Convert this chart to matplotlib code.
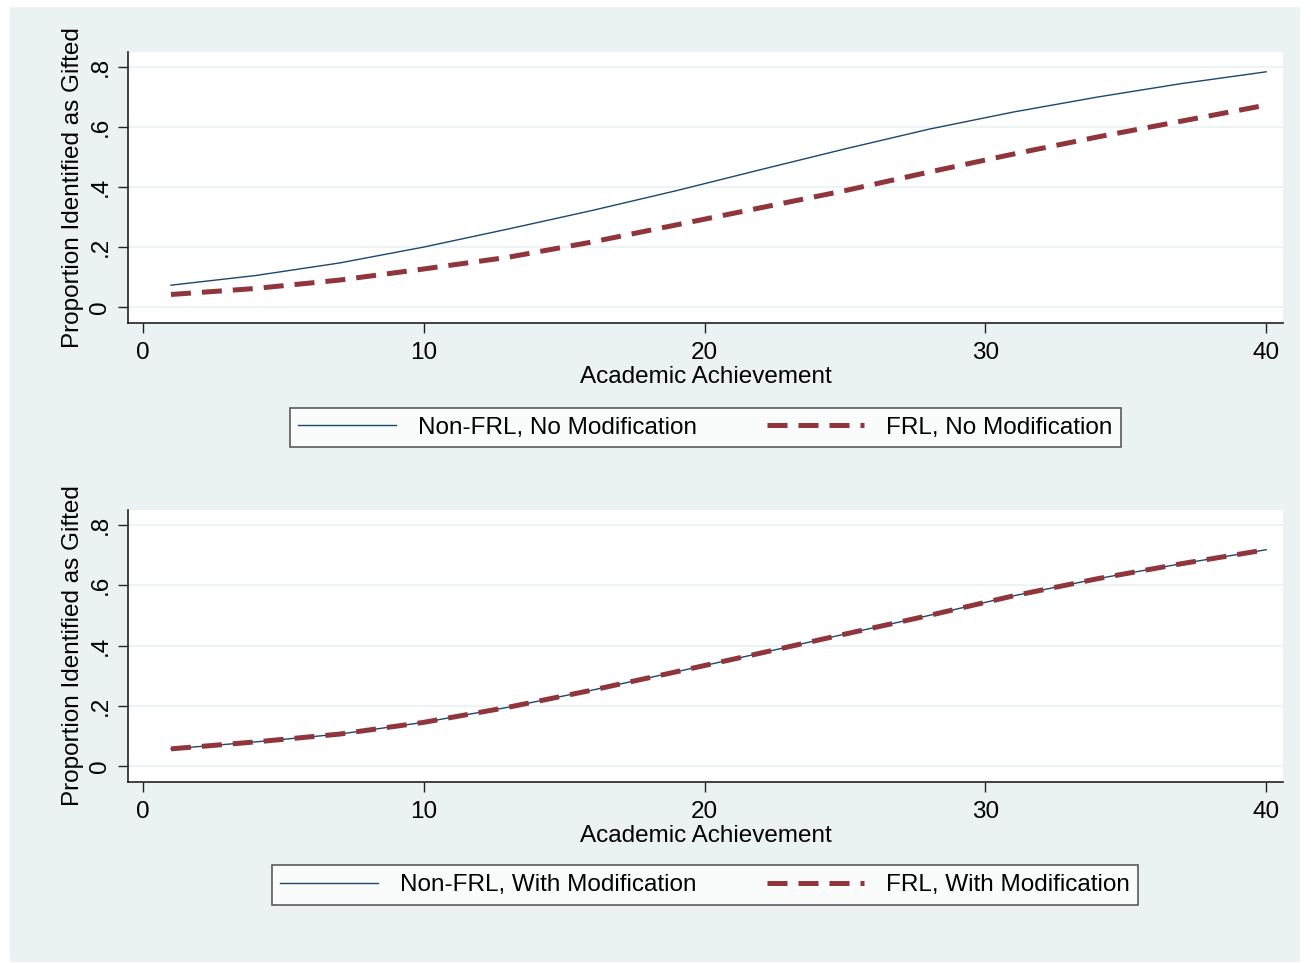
import numpy as np
import matplotlib
matplotlib.use("Agg")
import matplotlib.pyplot as plt
from matplotlib.patches import Rectangle

plt.rcParams["font.family"] = ["Liberation Sans", "DejaVu Sans"]

# ── Data ─────────────────────────────────────────────────────
achievement = [1, 4, 7, 10, 13, 16, 19, 22, 25, 28, 31, 34, 37, 40]

nonfrl_no_mod = [0.073, 0.105, 0.147, 0.200, 0.260, 0.322, 0.388, 0.458,
                 0.527, 0.593, 0.650, 0.700, 0.745, 0.784]
frl_no_mod    = [0.042, 0.062, 0.090, 0.127, 0.166, 0.217, 0.274, 0.331,
                 0.388, 0.450, 0.510, 0.567, 0.620, 0.673]

nonfrl_with_mod = [0.057, 0.080, 0.106, 0.145, 0.195, 0.252, 0.313, 0.375,
                   0.438, 0.500, 0.565, 0.622, 0.672, 0.718]
frl_with_mod    = [0.057, 0.080, 0.106, 0.145, 0.195, 0.252, 0.313, 0.375,
                   0.438, 0.500, 0.565, 0.622, 0.672, 0.718]

x_ticks = [0, 10, 20, 30, 40]
y_ticks = [0, 0.2, 0.4, 0.6, 0.8]
y_tick_labels = ["0", ".2", ".4", ".6", ".8"]

panels = [
    (nonfrl_no_mod, frl_no_mod,
     "Non-FRL, No Modification", "FRL, No Modification"),
    (nonfrl_with_mod, frl_with_mod,
     "Non-FRL, With Modification", "FRL, With Modification"),
]

# ── Styling (Stata s2color look) ─────────────────────────────
BG     = "#eaf2f3"
NAVY   = "#1a476f"
MAROON = "#90353b"
W, H   = 1311, 963
FS     = 17.5

fig = plt.figure(figsize=(W / 100, H / 100), dpi=100)
fig.patch.set_facecolor("white")
fig.patches.append(Rectangle((10 / W, 1 - 962 / H), 1290 / W, 955 / H,
                             transform=fig.transFigure, facecolor=BG,
                             edgecolor="none", zorder=-10))

# axes boxes in pixels: (left, top, right, bottom)
ax_boxes = [(128, 52, 1283, 323), (128, 510, 1283, 782)]
legend_centres = [(705.5, 427.5), (705, 885)]

for (l, t, r, b), (blue, red, lab1, lab2), (lx, ly) in zip(ax_boxes, panels, legend_centres):
    ax = fig.add_axes([l / W, 1 - b / H, (r - l) / W, (b - t) / H])
    ax.set_facecolor("white")

    ax.plot(achievement, blue, color=NAVY, lw=1.0, label=lab1, zorder=3)
    ax.plot(achievement, red, color=MAROON, lw=3.6, dashes=(4, 2.2),
            label=lab2, zorder=4)

    ax.set_xlim(-0.53, 40.6)
    ax.set_ylim(-0.053, 0.85)
    ax.set_xticks(x_ticks)
    ax.set_yticks(y_ticks)
    ax.set_yticklabels(y_tick_labels, rotation=90, va="center")
    ax.grid(axis="y", color=BG, lw=1.2, zorder=0)
    ax.set_axisbelow(True)

    for s in ["top", "right"]:
        ax.spines[s].set_visible(False)
    for s in ["left", "bottom"]:
        ax.spines[s].set_color("#222222")
        ax.spines[s].set_linewidth(1.2)
    ax.tick_params(direction="out", length=7, width=1, color="#222222",
                   labelsize=FS, pad=5)
    ax.tick_params(axis="x", pad=7)

    ax.set_xlabel("Academic Achievement", fontsize=FS, labelpad=1)
    ax.set_ylabel("Proportion Identified as Gifted", fontsize=FS, labelpad=4)

    leg = fig.legend(handles=ax.get_lines(), loc="center",
                     bbox_to_anchor=(lx / W, 1 - ly / H), ncol=2,
                     fontsize=FS, frameon=True, fancybox=False,
                     handlelength=4.0, handletextpad=0.9, columnspacing=2.9,
                     borderpad=0.35)
    leg.get_frame().set_edgecolor("#333333")
    leg.get_frame().set_linewidth(1.2)

plt.savefig("out.png", dpi=100)
